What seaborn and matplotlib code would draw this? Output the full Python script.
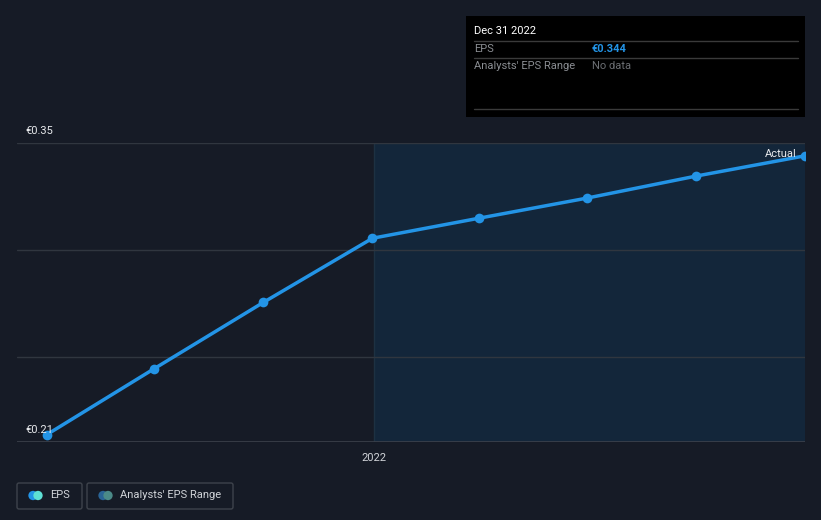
import matplotlib
matplotlib.use("Agg")
import matplotlib.pyplot as plt
import matplotlib.dates as mdates
from matplotlib.patches import Rectangle, FancyBboxPatch, Circle
import seaborn as sns
import pandas as pd
import numpy as np

# ---- data ----
dates = ["2021-03-31", "2021-06-30", "2021-09-30", "2021-12-31",
         "2022-03-31", "2022-06-30", "2022-09-30", "2022-12-31"]
eps = [0.2134, 0.2444, 0.2754, 0.3054, 0.3148, 0.3242, 0.3345, 0.344]
y_labels = ["€0.35", "€0.21"]
x_tick_label = "2022"
tooltip_date = "Dec 31 2022"
tooltip_eps = "€0.344"

sns.set_theme(style="dark")
plt.rcParams['font.family'] = ['Roboto', 'DejaVu Sans']

BG = "#161b26"
LINE = "#2394e6"
W, H = 821, 520

df = pd.DataFrame({"date": pd.to_datetime(dates), "eps": eps})

fig = plt.figure(figsize=(W / 100, H / 100), dpi=100, facecolor=BG)
ax = fig.add_axes([17 / W, (H - 442) / H, (805 - 17) / W, (442 - 143) / H])
ax.set_facecolor(BG)

x_left = pd.Timestamp("2021-03-06")
x_right = pd.Timestamp("2022-12-31")
split = pd.Timestamp("2022-01-01")
ax.set_xlim(x_left, x_right)
ax.set_ylim(0.21, 0.35)

# shaded forecast/actual region
ax.axvspan(split, x_right, color="#13263a", zorder=0, lw=0)
ax.axvline(split, color="#1d3142", lw=1, zorder=0.5)

# gridlines
for gv in [0.25, 0.30, 0.35]:
    ax.axhline(gv, color="#30363f", lw=1, zorder=0.6)
ax.axhline(0.21, color="#3c414b", lw=1.2, zorder=0.6)

sns.lineplot(data=df, x="date", y="eps", ax=ax, color=LINE, lw=2.5,
             marker="o", markersize=7, markeredgewidth=0, zorder=3, legend=False)

for s in ax.spines.values():
    s.set_visible(False)
ax.set_xlabel("")
ax.set_ylabel("")
ax.set_yticks([])
ax.set_xticks([split])
ax.set_xticklabels([x_tick_label], color="#d0d3d8", fontsize=8)
ax.tick_params(axis="x", length=4, color="#3c414b", pad=4)
ax.grid(False)

# y labels as text
fig.text(25 / W, 1 - 131 / H, y_labels[0], color="#e8eaed", fontsize=8, va="center", ha="left")
fig.text(25 / W, 1 - 430 / H, y_labels[1], color="#e8eaed", fontsize=8, va="center", ha="left")

# Actual label
fig.text(797 / W, 1 - 154 / H, "Actual", color="#e8eaed", fontsize=8, va="center", ha="right")

# tooltip box
fig.patches.append(Rectangle((466 / W, 1 - 117 / H), (805 - 466) / W, (117 - 16) / H,
                             transform=fig.transFigure, facecolor="#000000", edgecolor="none", zorder=5))
for yy in [41, 58, 109]:
    fig.add_artist(plt.Line2D([474 / W, 798 / W], [1 - yy / H, 1 - yy / H],
                              transform=fig.transFigure, color="#3a3a3a", lw=1, zorder=6))
fig.text(474 / W, 1 - 31 / H, tooltip_date, color="#ffffff", fontsize=8, va="center", zorder=7)
fig.text(474 / W, 1 - 49 / H, "EPS", color="#8a8d92", fontsize=8, va="center", zorder=7)
fig.text(592 / W, 1 - 49 / H, tooltip_eps, color="#2394e6", fontsize=8, va="center",
         fontweight="bold", zorder=7)
fig.text(474 / W, 1 - 66 / H, "Analysts' EPS Range", color="#8a8d92", fontsize=8, va="center", zorder=7)
fig.text(592 / W, 1 - 66 / H, "No data", color="#6b6e73", fontsize=8, va="center", zorder=7)

# legend boxes
def legend_box(x0, x1, label, c1, c2):
    fig.patches.append(FancyBboxPatch((x0 / W, 1 - 509 / H), (x1 - x0) / W, 26 / H,
                                      boxstyle="round,pad=0,rounding_size=0.003",
                                      transform=fig.transFigure, facecolor="none",
                                      edgecolor="#3e434c", lw=1))
    cy = 495.5
    for cx, c in [(x0 + 14, c1), (x0 + 20, c2)]:
        fig.patches.append(Circle((cx / W, 1 - cy / H), 0.0065, transform=fig.transFigure,
                                  facecolor=c, edgecolor="none"))
    # fix aspect of circles is approximate; draw via scatter instead

legend_ax = fig.add_axes([0, 0, 1, 1], facecolor="none")
legend_ax.set_xlim(0, W)
legend_ax.set_ylim(H, 0)
legend_ax.axis("off")
for x0, x1 in [(17, 82), (87, 233)]:
    legend_ax.add_patch(FancyBboxPatch((x0, 483), x1 - x0, 26,
                                       boxstyle="round,pad=0,rounding_size=2",
                                       facecolor="none", edgecolor="#3e434c", lw=1))
legend_ax.scatter([33], [495.5], s=45, color="#2394e6", edgecolors="none")
legend_ax.scatter([38], [495.5], s=45, color="#5ee0d4", edgecolors="none")
legend_ax.scatter([103], [495.5], s=45, color="#2a6496", edgecolors="none")
legend_ax.scatter([108], [495.5], s=45, color="#4b8a88", edgecolors="none")
legend_ax.text(50, 495.5, "EPS", color="#d0d3d8", fontsize=8, va="center")
legend_ax.text(120, 495.5, "Analysts' EPS Range", color="#d0d3d8", fontsize=8, va="center")

fig.savefig("out.png", dpi=100, facecolor=BG)
